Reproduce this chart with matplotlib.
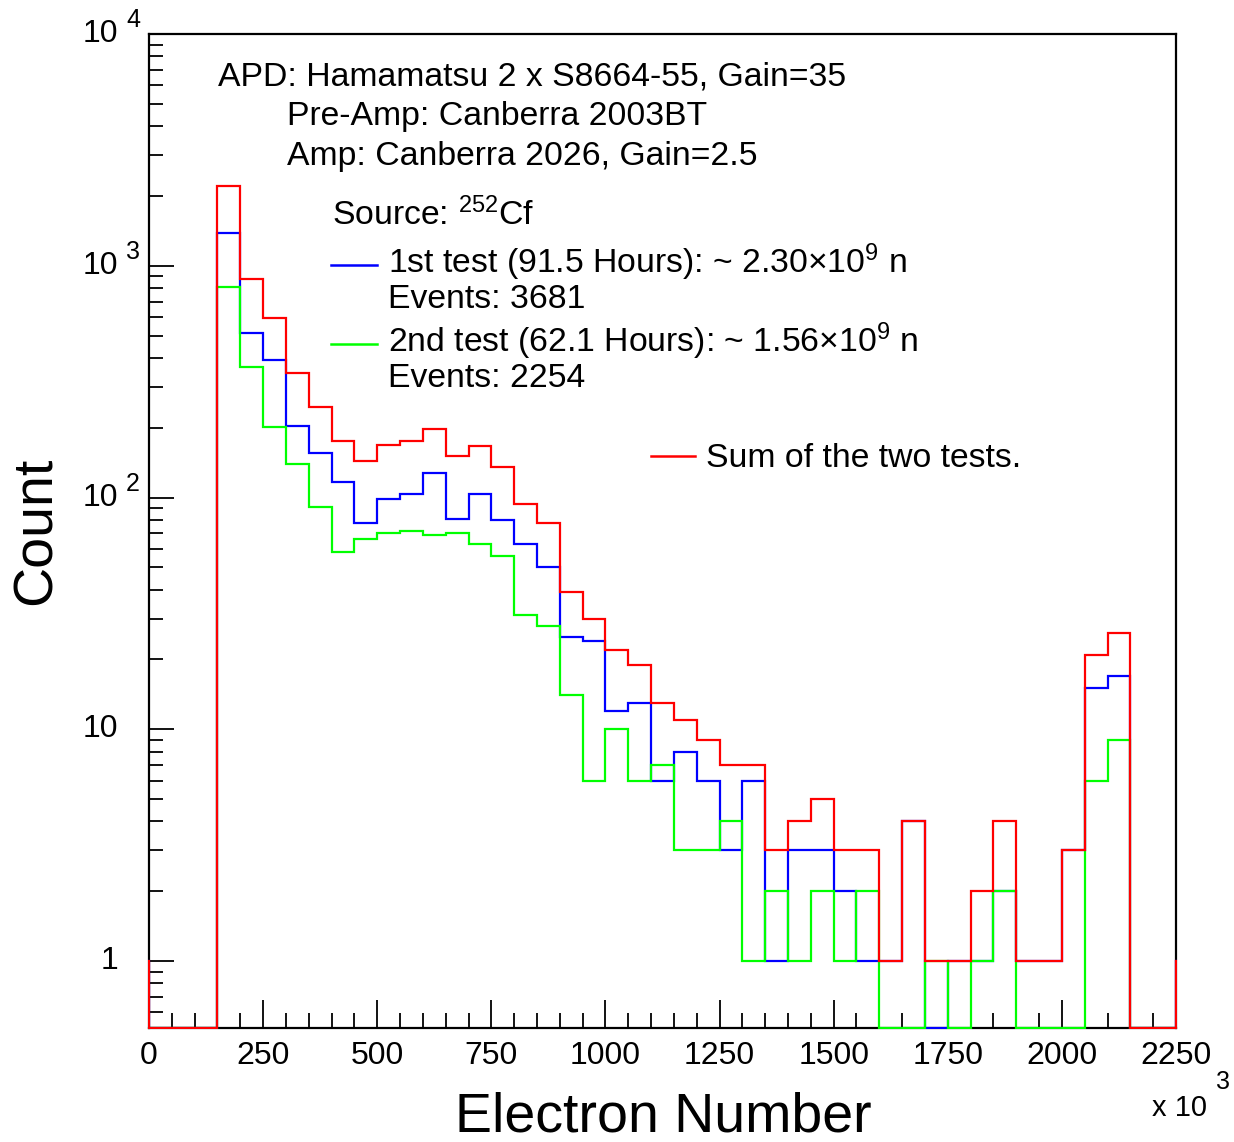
"""ROOT-style log histogram of APD electron-number spectra (252Cf source)."""

import matplotlib
matplotlib.use("Agg")
import matplotlib.pyplot as plt
import matplotlib.transforms as mtransforms
import numpy as np
from matplotlib.ticker import FixedLocator, LogLocator, MultipleLocator, NullFormatter

plt.rcParams["font.family"] = ["Liberation Sans", "DejaVu Sans"]
plt.rcParams["mathtext.fontset"] = "custom"
plt.rcParams["mathtext.rm"] = "Liberation Sans"
plt.rcParams["mathtext.it"] = "Liberation Sans:italic"
plt.rcParams["mathtext.bf"] = "Liberation Sans:bold"

# bin edges in units of 10^3 electrons, 50k wide; the first and last bins lie
# just outside the drawn range (-50..0 and 2250..2300)
bin_edges = np.arange(-50, 2301, 50)

# counts per bin, from -50 to 2300 (47 bins)
first_test = np.array([
    1,
    0, 0, 0, 1390, 512, 393, 204, 155, 117, 78,
    99, 104, 128, 81, 104, 80, 63, 50, 25, 24,
    12, 13, 6, 8, 6, 3, 6, 1, 3, 3,
    2, 1, 1, 4, 0, 1, 1, 2, 1, 1,
    3, 15, 17, 0, 0,
    1,
])
second_test = np.array([
    0,
    0, 0, 0, 813, 367, 201, 139, 91, 58, 66,
    70, 72, 69, 70, 63, 56, 31, 28, 14, 6,
    10, 6, 7, 3, 3, 4, 1, 2, 1, 2,
    1, 2, 0, 0, 1, 0, 1, 2, 0, 0,
    0, 6, 9, 0, 0,
    0,
])
sum_tests = first_test + second_test

x_ticks = np.arange(0, 2251, 250)
y_major = [1, 10, 100, 1000, 10000]
y_exponents = {100: "2", 1000: "3", 10000: "4"}

W, H = 1234, 1142
Y_MIN, Y_MAX = 0.514, 1e4
# frame in pixels: left, bottom(from top), right, top(from top)
FL, FB, FR, FT = 149, 1028, 1176, 34

fig = plt.figure(figsize=(W / 100, H / 100), dpi=100)
ax = fig.add_axes([FL / W, 1 - FB / H, (FR - FL) / W, (FB - FT) / H])

ax.set_yscale("log")
ax.set_xlim(0, 2250)
ax.set_ylim(Y_MIN, Y_MAX)

# clip a hair outside the frame so lines lying on the frame show in full
clip_box = mtransforms.Bbox.from_extents(FL - 1.2, H - FB - 1.2, FR + 1.2, H - FT + 1.2)

for vals, col in [(first_test, "#0000ff"), (second_test, "#00ff00"), (sum_tests, "#ff0000")]:
    # empty bins go to the bottom of the frame, as ROOT draws them on log y
    shown = np.maximum(vals, Y_MIN).astype(float)
    st = ax.stairs(shown, bin_edges, baseline=None, color=col, linewidth=1.6, zorder=3)
    st.set_clip_path(None)
    st.set_clip_box(clip_box)

for side in ["left", "bottom", "top", "right"]:
    ax.spines[side].set_linewidth(1.6)

ax.xaxis.set_major_locator(FixedLocator(x_ticks))
ax.xaxis.set_minor_locator(MultipleLocator(50))
ax.tick_params(axis="x", which="major", direction="in", length=20, width=1.3,
               labelsize=23, pad=9, top=False)
ax.tick_params(axis="x", which="minor", direction="in", length=11, width=1.3, top=False)
ax.tick_params(axis="y", which="major", direction="in", length=18, width=1.3, right=False)
ax.tick_params(axis="y", which="minor", direction="in", length=10, width=1.3, right=False)
ax.yaxis.set_major_locator(FixedLocator(y_major))
ax.yaxis.set_minor_locator(LogLocator(base=10, subs=np.arange(2, 10), numticks=20))
ax.yaxis.set_major_formatter(NullFormatter())
ax.yaxis.set_minor_formatter(NullFormatter())

# ROOT-style y labels: "10" with a detached exponent
lab_trans = mtransforms.blended_transform_factory(fig.transFigure, ax.transData)
exp_trans = mtransforms.offset_copy(lab_trans, fig=fig, x=0, y=14, units="dots")
for v in y_major:
    base = "1" if v == 1 else "10"
    ax.text(118 / W, v, base, transform=lab_trans, ha="right", va="center",
            fontsize=23, clip_on=False)
    if v in y_exponents:
        ax.text(126 / W, v, y_exponents[v], transform=exp_trans, ha="left",
                va="center", fontsize=18, clip_on=False)

fig.text(663 / W, 1 - 1132 / H, "Electron Number", ha="center", va="baseline", fontsize=40)
fig.text(37 / W, 1 - 531 / H, "Count", ha="center", va="center", rotation=90, fontsize=40)
fig.text(1207 / W, 1 - 1116 / H, "x 10", ha="right", va="baseline", fontsize=21)
fig.text(1216 / W, 1 - 1082 / H, "3", ha="left", va="center", fontsize=18)

# annotation block
txt = dict(fontsize=24.3, va="baseline", ha="left")
fig.text(218 / W, 1 - 85 / H, "APD: Hamamatsu 2 x S8664-55, Gain=35", **txt)
fig.text(287 / W, 1 - 125 / H, "Pre-Amp: Canberra 2003BT", **txt)
fig.text(287 / W, 1 - 165 / H, "Amp: Canberra 2026, Gain=2.5", **txt)
fig.text(332 / W, 1 - 225 / H, r"Source: $^{252}$Cf", **txt)
fig.text(388 / W, 1 - 273 / H, r"1st test (91.5 Hours): ~ 2.30$\times$10$^{9}$ n", **txt)
fig.text(388 / W, 1 - 308 / H, "Events: 3681", **txt)
fig.text(388 / W, 1 - 352 / H, r"2nd test (62.1 Hours): ~ 1.56$\times$10$^{9}$ n", **txt)
fig.text(388 / W, 1 - 387 / H, "Events: 2254", **txt)
fig.text(706 / W, 1 - 467 / H, "Sum of the two tests.", **txt)

# legend line samples
for (x0, x1, y), col in [((331, 377, 265), "#0000ff"), ((331, 377, 344), "#00ff00"),
                         ((651, 695, 456), "#ff0000")]:
    fig.add_artist(plt.Line2D([x0 / W, x1 / W], [1 - y / H, 1 - y / H], color=col,
                              linewidth=1.8, transform=fig.transFigure))

fig.savefig("out.png", dpi=100)
